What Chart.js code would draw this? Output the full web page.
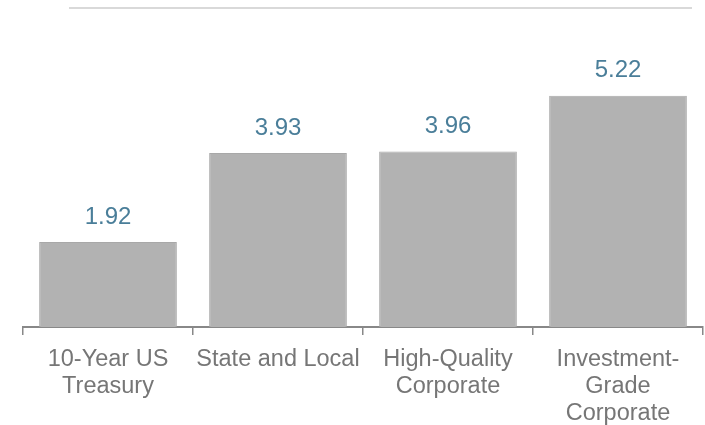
<!DOCTYPE html>
<html>
<head>
<meta charset="utf-8">
<script src="https://cdn.jsdelivr.net/npm/chart.js@4/dist/chart.umd.min.js"></script>
<style>
  html, body { margin: 0; padding: 0; background: #fff; }
  #wrap { width: 705px; height: 425px; }
</style>
</head>
<body>
<div id="wrap"><canvas id="yieldChart"></canvas></div>
<script>
const categories = [
    ['10-Year US', 'Treasury'],
    ['State and Local'],
    ['High-Quality', 'Corporate'],
    ['Investment-', 'Grade', 'Corporate']
]
const yields = [1.92, 3.93, 3.96, 5.22]
const yMax = 7.2

// values above the bars
const valueLabels = {
    id: 'valueLabels',
    afterDatasetsDraw(chart) {
        const ctx = chart.ctx
        const meta = chart.getDatasetMeta(0)
        ctx.save()
        ctx.font = '24px "Liberation Sans", Arial, sans-serif'
        ctx.fillStyle = '#4a7e99'
        ctx.textAlign = 'center'
        ctx.textBaseline = 'middle'
        meta.data.forEach((bar, i) => {
            ctx.fillText(yields[i].toFixed(2), bar.x, bar.y - 25)
        })
        ctx.restore()
    }
}

// thin rule across the top
const topRule = {
    id: 'topRule',
    beforeDraw(chart) {
        const ctx = chart.ctx
        ctx.save()
        ctx.strokeStyle = '#d9d9d9'
        ctx.lineWidth = 2
        ctx.beginPath()
        ctx.moveTo(69, 8)
        ctx.lineTo(692, 8)
        ctx.stroke()
        ctx.restore()
    }
}

const el = document.getElementById('yieldChart')
const yieldChart = new Chart(el, {
    type: 'bar',
    data: {
        labels: categories,
        datasets: [{
            data: yields,
            backgroundColor: '#b2b2b2',
            borderColor: '#a8a8a8',
            borderWidth: 1,
            barPercentage: 0.81,
            categoryPercentage: 1
        }]
    },
    options: {
        responsive: true,
        maintainAspectRatio: false,
        animation: false,
        layout: { padding: { left: 23, right: 2, top: 8, bottom: 0 } },
        plugins: {
            legend: { display: false },
            tooltip: { enabled: false }
        },
        scales: {
            x: {
                afterFit(scale) { scale.height = 98 },
                grid: {
                    offset: true,
                    drawOnChartArea: false,
                    drawTicks: true,
                    tickLength: 8,
                    color: '#888888',
                    lineWidth: 1.5
                },
                border: { color: '#888888', width: 2 },
                ticks: {
                    color: '#767676',
                    padding: 11,
                    maxRotation: 0,
                    autoSkip: false,
                    font: { family: '"Liberation Sans", Arial, sans-serif', size: 23.5, lineHeight: 1.15 }
                }
            },
            y: {
                display: false,
                min: 0,
                max: yMax
            }
        }
    },
    plugins: [valueLabels, topRule]
})
</script>
</body>
</html>
